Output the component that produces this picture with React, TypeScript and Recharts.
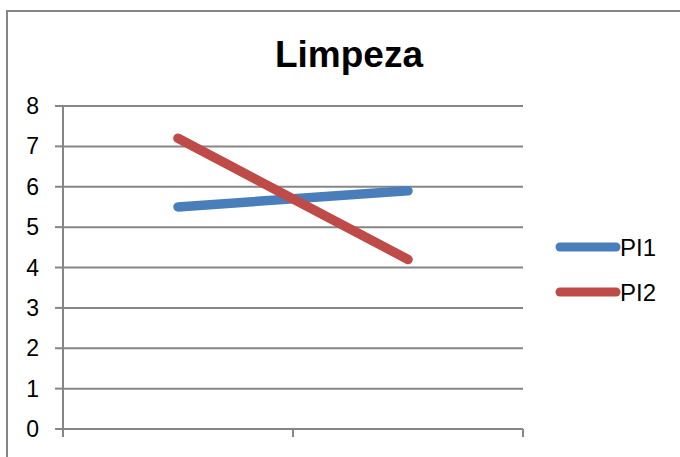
import React from "react";
import { LineChart, Line, XAxis, YAxis, CartesianGrid, Legend } from "recharts";

// Two evaluation moments, two series
const periodos = ["Período 1", "Período 2"];
const pi1 = [5.5, 5.9];
const pi2 = [7.2, 4.2];
const yTicks = [0, 1, 2, 3, 4, 5, 6, 7, 8];

const GRID = "#868686";
const BLUE = "#4A7EBB";
const RED = "#BE4B48";
const FONT = "'Liberation Sans', Arial, sans-serif";
const LEGEND_W = 120;

// Category i sits at the centre of band [i, i+1] on a numeric axis,
// so the axis ticks fall on the band boundaries.
const data = periodos.map((p, i) => ({ periodo: p, pos: i + 0.5, PI1: pi1[i], PI2: pi2[i] }));
const xTicks = Array.from({ length: periodos.length + 1 }, (_, i) => i);

const YTick = (props: any) => {
  const { x, y, payload } = props;
  return (
    <text x={x} y={y} dy={8} textAnchor="end" fontSize={23} fontFamily={FONT} fill="#000">
      {payload.value}
    </text>
  );
};

const LegendContent = (props: any) => {
  const payload = props.payload || [];
  return (
    <svg width={LEGEND_W} height={100} style={{ display: "block", overflow: "visible" }}>
      {payload.map((entry: any, i: number) => {
        const y = 15 + i * 45;
        return (
          <g key={entry.value}>
            <line x1={4} y1={y} x2={60} y2={y} stroke={entry.color} strokeWidth={9} strokeLinecap="round" />
            <text x={64} y={y + 8.5} fontSize={24} fontFamily={FONT} fill="#000">
              {entry.value}
            </text>
          </g>
        );
      })}
    </svg>
  );
};

export default function App() {
  return (
    <div style={{ position: "absolute", left: 0, top: 0, width: 680, height: 457, overflow: "hidden", background: "#fff" }}>
      <div
        style={{
          position: "absolute",
          left: 6,
          top: 10,
          width: 720,
          height: 520,
          border: `2px solid ${GRID}`,
          boxSizing: "border-box",
        }}
      />
      <svg width={680} height={457} style={{ position: "absolute", left: 0, top: 0 }}>
        <text x={349} y={67} textAnchor="middle" fontSize={37} fontWeight="bold" fontFamily={FONT} fill="#000">
          Limpeza
        </text>
      </svg>
      <div style={{ position: "absolute", left: 0, top: 0 }}>
        <LineChart width={680} height={457} data={data} margin={{ top: 106, right: 157 - LEGEND_W, bottom: 20, left: 0 }}>
          <CartesianGrid vertical={false} stroke={GRID} strokeWidth={2} />
          <XAxis
            dataKey="pos"
            type="number"
            domain={[0, periodos.length]}
            ticks={xTicks}
            tickFormatter={() => ""}
            height={8}
            tickSize={8}
            axisLine={{ stroke: GRID, strokeWidth: 2 }}
            tickLine={{ stroke: GRID, strokeWidth: 2 }}
          />
          <YAxis
            domain={[0, 8]}
            ticks={yTicks}
            interval={0}
            width={63}
            tickSize={8}
            tickMargin={16}
            axisLine={{ stroke: GRID, strokeWidth: 2 }}
            tickLine={{ stroke: GRID, strokeWidth: 2 }}
            tick={<YTick />}
          />
          <Legend
            layout="vertical"
            align="right"
            verticalAlign="middle"
            content={<LegendContent />}
            wrapperStyle={{ left: 556, top: 232, width: LEGEND_W, height: 100 }}
          />
          <Line dataKey="PI1" stroke={BLUE} strokeWidth={9.5} strokeLinecap="round" dot={false} isAnimationActive={false} />
          <Line dataKey="PI2" stroke={RED} strokeWidth={9.5} strokeLinecap="round" dot={false} isAnimationActive={false} />
        </LineChart>
      </div>
    </div>
  );
}
